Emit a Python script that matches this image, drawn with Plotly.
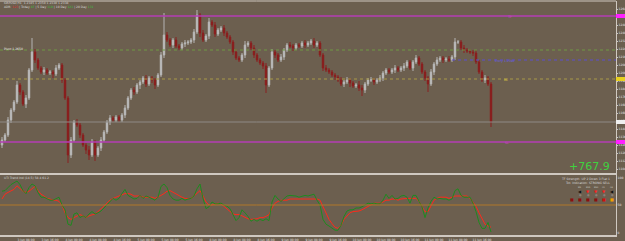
import plotly.graph_objects as go
from plotly.subplots import make_subplots

# ---------------- data ----------------
close = [1133,1138,1153,1163,1171,1188,1181,1169,1175,1203,
         1221,1213,1205,1201,1203,1200,1201,1199,1205,1208,
         1193,1175,1118,1133,1151,1148,1138,1128,1123,1118,
         1131,1118,1125,1133,1141,1151,1155,1153,1156,1153,
         1158,1165,1175,1183,1181,1188,1191,1195,1189,1195,
         1193,1188,1198,1218,1238,1233,1228,1233,1227,1225,
         1229,1230,1231,1233,1241,1258,1240,1233,1237,1251,
         1248,1239,1243,1245,1240,1236,1231,1221,1215,1213,
         1218,1228,1230,1225,1218,1213,1210,1207,1188,1205,
         1221,1218,1213,1216,1223,1228,1227,1225,1228,1227,
         1230,1228,1230,1232,1228,1230,1218,1205,1203,1201,
         1198,1196,1193,1189,1191,1193,1190,1187,1188,1185,
         1183,1189,1193,1193,1191,1193,1195,1200,1203,1201,
         1203,1205,1203,1205,1207,1211,1205,1211,1215,1209,
         1201,1195,1189,1201,1209,1213,1215,1213,1214,1213,
         1216,1231,1231,1225,1223,1222,1221,1220,1211,1201,
         1193,1195,1189,1151]
first_open = 1128
upper_wick = [3,2,3,2,2,4,2,2,3,2, 14,3,2,2,3,2,2,2,3,2,
              2,2,2,3,2,3,2,2,2,4, 3,2,2,3,2,2,3,2,2,2,
              2,3,2,2,3,2,2,2,3,2, 2,2,2,3,22,3,2,2,3,2,
              2,3,2,2,3,5,2,3,2,4, 2,3,2,2,3,2,2,2,3,2,
              2,4,2,2,3,2,2,2,3,2, 3,2,2,3,2,2,3,2,2,2,
              2,3,2,2,3,2,2,2,3,2, 2,2,2,3,2,3,2,2,2,4,
              3,2,2,3,2,2,3,2,2,2, 2,3,2,2,3,2,2,2,3,2,
              2,2,2,3,2,3,2,2,2,3, 2,4,2,2,3,2,2,2,3,2,
              2,3,2,2]
lower_wick = [3,2,2,3,2,2,3,2,4,2, 2,3,2,2,3,2,2,4,2,2,
              3,2,8,3,2,2,3,2,4,5, 2,6,2,3,2,2,3,2,2,2,
              2,3,2,2,3,2,4,2,3,2, 3,4,2,2,3,2,2,3,2,2,
              2,3,2,2,3,2,4,2,2,3, 2,3,2,2,3,2,2,3,2,2,
              2,3,2,2,3,2,2,3,8,2, 2,3,2,2,3,2,2,3,2,2,
              2,3,2,2,3,2,2,3,2,2, 2,3,2,2,3,2,4,2,2,3,
              6,3,2,2,3,2,2,3,2,2, 2,3,2,2,3,2,2,3,2,2,
              2,3,8,2,3,2,2,3,2,2, 2,3,2,2,3,2,2,3,2,2,
              2,3,2,5]

osc_fast = [73,74,79,84,87,90,84,74,69,79, 85,82,71,63,63,61,58,58,60,63,
            50,42,18,16,35,37,29,32,29,35, 39,35,37,40,45,50,55,61,58,61,
            69,76,66,63,60,61,66,61,65,63, 60,58,63,81,85,79,66,60,58,58,
            61,58,60,61,65,77,85,61,44,47, 55,52,52,53,50,48,44,34,24,29,
            42,37,31,23,26,23,26,24,27,24, 55,66,60,56,60,65,66,66,65,63,
            65,66,65,66,68,58,50,26,18,15, 11,8,8,16,31,40,42,42,45,45,
            47,50,53,52,53,52,52,58,68,61, 66,60,61,65,66,63,53,66,66,56,
            47,29,45,56,63,60,61,60,60,58, 60,74,77,66,63,63,63,53,39,21,
            11,11,21,5]
osc_slow = [60,68,71,73,76,82,77,73,71,73, 77,81,74,68,65,61,60,58,58,56,
            50,37,29,26,29,32,34,32,29,32, 34,35,39,44,48,53,58,61,63,66,
            68,69,69,68,65,65,65,63,63,63, 63,61,63,66,69,73,74,71,68,65,
            63,61,61,61,65,69,74,65,55,50, 50,52,53,52,48,44,39,35,34,34,
            32,29,27,26,26,27,29,29,31,34, 45,53,56,58,58,58,60,60,60,60,
            60,61,61,61,61,60,58,48,37,26, 19,13,11,16,26,32,37,39,39,40,
            42,45,48,50,53,53,53,55,58,58, 60,60,58,60,61,61,61,61,61,56,
            48,39,39,50,58,61,63,63,63,61, 63,65,65,65,66,65,61,55,48,37,
            26,18,15,13]
osc_level = 50

tp_level = 1257
pivot_level = 1223
entry_level = 1213
be_level = 1194
price_line = 1151
sl_level = 1131
entry_start = 150

tick_labels = ["3 Jun 00:00","3 Jun 08:00","3 Jun 16:00",
               "4 Jun 00:00","4 Jun 08:00","4 Jun 16:00",
               "5 Jun 00:00","5 Jun 08:00","5 Jun 16:00",
               "8 Jun 00:00","8 Jun 08:00","8 Jun 16:00",
               "9 Jun 00:00","9 Jun 08:00","9 Jun 16:00",
               "10 Jun 00:00","10 Jun 08:00","10 Jun 16:00",
               "11 Jun 00:00","11 Jun 08:00","11 Jun 16:00"]

# ---------------- build ----------------
n = len(close)
idx = list(range(n))
opens = [first_open] + close[:-1]
highs = [max(o, c) + w for o, c, w in zip(opens, close, upper_wick)]
lows = [min(o, c) - w for o, c, w in zip(opens, close, lower_wick)]

BG = "#6c5f4f"
FRAME = "#cfc8c0"
W, H = 625, 241
ML, MR, MT, MB = 0, 9, 1, 6
PW, PH = W - ML - MR, H - MT - MB
YB = H - MB  # bottom pixel of plot area

def px(x):
    return (x - ML) / PW

def py(y):
    return (YB - y) / PH

fig = make_subplots(rows=2, cols=1, shared_xaxes=False, vertical_spacing=0)

fig.add_trace(go.Candlestick(
    x=idx, open=opens, high=highs, low=lows, close=close,
    increasing=dict(line=dict(color="#b4b4b4", width=1), fillcolor="#e4e4e4"),
    decreasing=dict(line=dict(color="#8a2020", width=1), fillcolor="#8b0a0a"),
    whiskerwidth=0, showlegend=False, hoverinfo="skip"), row=1, col=1)

fig.add_trace(go.Scatter(x=idx, y=osc_slow, mode="lines",
                         line=dict(color="#ff2a1a", width=1), showlegend=False, hoverinfo="skip"), row=2, col=1)
fig.add_trace(go.Scatter(x=idx, y=osc_fast, mode="lines",
                         line=dict(color="#1e8a1e", width=1), showlegend=False, hoverinfo="skip"), row=2, col=1)

xr = [(0 - 2) / 3, (616 - 2) / 3]
for r in (1, 2):
    fig.update_xaxes(range=xr, showgrid=False, zeroline=False, row=r, col=1, automargin=False,
                     showline=True, linecolor=FRAME, linewidth=2, mirror=False)
fig.update_xaxes(showticklabels=False, rangeslider=dict(visible=False), row=1, col=1)
fig.update_xaxes(tickvals=list(range(0, n, 8)), ticktext=tick_labels, ticks="", tickangle=0,
                 tickfont=dict(size=3, color="#e0e0e0", family="DejaVu Sans"),
                 ticklabelstandoff=0, row=2, col=1)

fig.update_yaxes(range=[1100, 1272], side="right", showgrid=False, zeroline=False,
                 tickvals=list(range(1104, 1272, 8)),
                 tickfont=dict(size=3, color="#e8e8e8", family="DejaVu Sans"),
                 showline=True, linecolor=FRAME, linewidth=1, ticks="outside", ticklen=1,
                 tickcolor=FRAME, ticklabelstandoff=0, automargin=False, row=1, col=1)
fig.update_yaxes(range=[0, 100], side="right", showgrid=False, zeroline=False,
                 tickvals=[3, 50, 95], ticktext=["0", "50", "100"],
                 tickfont=dict(size=3, color="#e8e8e8", family="DejaVu Sans"), ticklabelstandoff=0,
                 showline=True, linecolor=FRAME, linewidth=1, automargin=False, row=2, col=1)

fig.update_layout(
    xaxis=dict(domain=[0, 1]), xaxis2=dict(domain=[0, 1]),
    yaxis=dict(domain=[py(173), 1.0]),
    yaxis2=dict(domain=[0.0, py(175)]),
)

# horizontal levels
fig.add_hline(y=tp_level, line=dict(color="#b43cb4", width=1.5), row=1, col=1)
fig.add_hline(y=sl_level, line=dict(color="#b43cb4", width=1.5), row=1, col=1)
fig.add_hline(y=pivot_level, line=dict(color="#6f9a45", width=1, dash="dot"), row=1, col=1)
fig.add_hline(y=be_level, line=dict(color="#a89a48", width=1, dash="dot"), row=1, col=1)
fig.add_hline(y=price_line, line=dict(color="#8e8a86", width=1), row=1, col=1)
fig.add_shape(type="line", xref="x", yref="y", x0=entry_start, x1=xr[1], y0=entry_level, y1=entry_level,
              line=dict(color="#5a4fd0", width=1, dash="dot"))
fig.add_hline(y=osc_level, line=dict(color="#b0782a", width=1), row=2, col=1)

# price tags on right axis
for lvl, col in ((tp_level, "#ff20ff"), (sl_level, "#ff20ff"), (be_level, "#e8d020"), (price_line, "#f0f0f0")):
    fig.add_shape(type="rect", xref="paper", yref="y", x0=1.0, x1=1.02, y0=lvl - 2, y1=lvl + 2,
                  fillcolor=col, line=dict(width=0), layer="above")

# top frame line
fig.add_shape(type="line", xref="paper", yref="paper", x0=0, x1=1, y0=1.0, y1=1.0,
              line=dict(color=FRAME, width=1))

def ann(x, y, text, size=4, color="#e0e0e0", anchor="left", **kw):
    fig.add_annotation(x=px(x), y=py(y), xref="paper", yref="paper", text=text, showarrow=False,
                       xanchor=anchor, yanchor="middle", font=dict(size=size, color=color, family="DejaVu Sans"), **kw)

ann(2, 3, "GBPUSD,H1  1.2345 1.2350 1.2330 1.2338", size=3, color="#d8d8d8")
ann(2, 7, "ADR: <span style='color:#e03030'>123</span> | Today <span style='color:#40c040'>87</span> | 5 Day <span style='color:#40c040'>110</span> | 10 Day <span style='color:#40c040'>121</span> | 20 Day <span style='color:#40c040'>131</span>", size=3, color="#d8d8d8")
ann(2, 49, "Pivot 1.2650", size=3, color="#f0f0f0")
ann(505, 17, "TP", size=3, color="#d040d0")
ann(493, 61, "Entry 1.2598", size=3, color="#6a5fe0")
ann(502, 80, "BE", size=3, color="#e0d040")
ann(503, 143, "SL", size=3, color="#d040d0")
ann(612, 167, "+767.9", size=11, color="#3fd23f", anchor="right")
ann(2, 178, "UTI Trend Ind (14,5) 58.4 61.2", size=3, color="#d8d8d8")

# right-side legend block in lower panel
ann(612, 179, "TF Strength: UP 2 Down 3 Flat 1", size=3, color="#d8d8d8", anchor="right")
ann(612, 183, "Tot. Indication: STRONG SELL", size=3, color="#d8d8d8", anchor="right")
cols = [580, 588, 596, 604, 612]
tfs = ["M5", "M15", "M30", "H1", "H4"]
arrows = [("◀", "#101010"), ("▼", "#ff2020"), ("▼", "#ff2020"), ("▼", "#ff2020"), ("◀", "#101010")]
sq = ["#8b1010", "#8b1010", "#8b1010", "#d01010", "#f0a000"]
for cx, tf, (ar, ac), sc in zip(cols, tfs, arrows, sq):
    ann(cx, 187, tf, size=2, color="#d8d8d8", anchor="center")
    ann(cx, 191, ar, size=4, color=ac, anchor="center")
    ann(cx, 195, "●", size=3, color="#8a8078", anchor="center")
    ann(cx, 199, "■", size=4, color=sc, anchor="center")
ann(572, 199, "■", size=4, color="#8b1010", anchor="center")

fig.update_layout(
    width=W, height=H, margin=dict(l=ML, r=MR, t=MT, b=MB),
    paper_bgcolor=BG, plot_bgcolor=BG, showlegend=False,
)

fig.write_html("out.html")
